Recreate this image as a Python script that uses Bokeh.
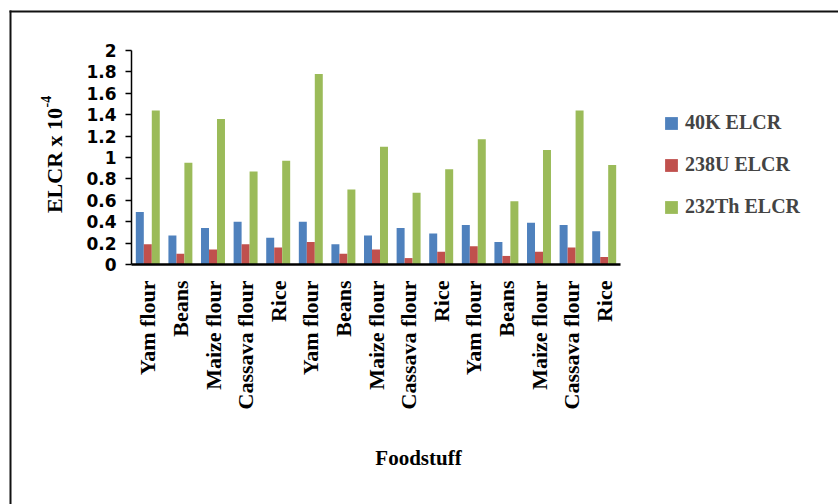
import math

from bokeh.embed import file_html
from bokeh.models import (BoxAnnotation, ColumnDataSource, FixedTicker, Label,
                          Legend, LegendItem, Range1d)
from bokeh.plotting import figure
from bokeh.resources import INLINE

# ELCR (x 10^-4) for each foodstuff sample, three sampling sets of five foods
foods = ["Yam flour", "Beans", "Maize flour", "Cassava flour", "Rice",
         "Yam flour", "Beans", "Maize flour", "Cassava flour", "Rice",
         "Yam flour", "Beans", "Maize flour", "Cassava flour", "Rice"]
k40_elcr = [0.49, 0.27, 0.34, 0.40, 0.25, 0.40, 0.19, 0.27, 0.34, 0.29,
            0.37, 0.21, 0.39, 0.37, 0.31]
u238_elcr = [0.19, 0.10, 0.14, 0.19, 0.16, 0.21, 0.10, 0.14, 0.06, 0.12,
             0.17, 0.08, 0.12, 0.16, 0.07]
th232_elcr = [1.44, 0.95, 1.36, 0.87, 0.97, 1.78, 0.70, 1.10, 0.67, 0.89,
              1.17, 0.59, 1.07, 1.44, 0.93]
series_names = ["40K ELCR", "238U ELCR", "232Th ELCR"]
series_colors = ["#4F81BD", "#C0504D", "#9BBB59"]
y_ticks = [0, 0.2, 0.4, 0.6, 0.8, 1, 1.2, 1.4, 1.6, 1.8, 2]
y_tick_labels = ["0", "0.2", "0.4", "0.6", "0.8", "1", "1.2", "1.4", "1.6", "1.8", "2"]

W, H = 838, 504
# where the bar area sits on the canvas
A_LEFT, A_RIGHT, A_TOP, A_BOTTOM = 131, 620, 50, 264
N = len(foods)
Y_MAX = 2
PX_X = (A_RIGHT - A_LEFT) / N        # pixels per category
PX_Y = (A_BOTTOM - A_TOP) / Y_MAX    # pixels per unit of ELCR


def dx(sx):
    return (sx - A_LEFT) / PX_X


def dy(sy):
    return (A_BOTTOM - sy) / PX_Y


# the frame spans the whole canvas; the axes are pinned at zero
p = figure(width=W, height=H, output_backend="svg", toolbar_location=None,
           x_range=Range1d(dx(0), dx(W)), y_range=Range1d(dy(H), dy(0)),
           min_border=0)
p.outline_line_color = None
p.grid.visible = False

bar_w = 0.245
centers = [i + 0.5 for i in range(N)]
renderers = []
for k, (vals, color) in enumerate(zip([k40_elcr, u238_elcr, th232_elcr], series_colors)):
    src = ColumnDataSource(dict(x=[c + (k - 1) * bar_w for c in centers], top=vals))
    r = p.vbar(x="x", top="top", width=bar_w, source=src,
               fill_color=color, line_color=None)
    renderers.append(r)

# y axis
yax = p.yaxis[0]
yax.fixed_location = 0
yax.bounds = (0, Y_MAX)
yax.ticker = FixedTicker(ticks=y_ticks)
yax.major_label_overrides = {t: s for t, s in zip(y_ticks, y_tick_labels)}
yax.minor_tick_line_color = None
yax.major_tick_in = 0
yax.major_tick_out = 6
yax.major_tick_line_color = "black"
yax.major_tick_line_width = 1.5
yax.axis_line_color = "black"
yax.axis_line_width = 1.5
yax.major_label_standoff = 9
yax.major_label_text_font = "DejaVu Sans"
yax.major_label_text_font_style = "bold"
yax.major_label_text_font_size = "17px"
yax.major_label_text_color = "black"

# x axis with the food names
xax = p.xaxis[0]
xax.fixed_location = 0
xax.bounds = (0, N)
xax.ticker = FixedTicker(ticks=centers)
xax.major_label_overrides = {c: f for c, f in zip(centers, foods)}
xax.major_label_orientation = math.pi / 2
xax.minor_tick_line_color = None
xax.major_tick_line_color = None
xax.axis_line_color = "black"
xax.axis_line_width = 2.5
xax.major_label_standoff = 10
xax.major_label_text_font = "Liberation Serif"
xax.major_label_text_font_style = "bold"
xax.major_label_text_font_size = "22px"
xax.major_label_text_color = "black"

# axis titles
serif_bold = dict(text_font="Liberation Serif", text_font_style="bold", text_color="black")
p.add_layout(Label(x=dx(54), y=dy(160), text="ELCR x 10", angle=math.pi / 2,
                   text_align="center", text_baseline="alphabetic",
                   text_font_size="22px", **serif_bold))
p.add_layout(Label(x=dx(45), y=dy(107), text="-4", angle=math.pi / 2,
                   text_align="left", text_baseline="alphabetic",
                   text_font_size="14px", **serif_bold))
p.add_layout(Label(x=dx(418), y=dy(457), text="Foodstuff",
                   text_align="center", text_baseline="alphabetic",
                   text_font_size="21px", **serif_bold))

# legend
legend = Legend(items=[LegendItem(label=n, renderers=[r]) for n, r in zip(series_names, renderers)],
                location=(663, H - 218),
                glyph_width=16, glyph_height=16, label_standoff=6,
                label_text_font="Liberation Serif", label_text_font_style="bold",
                label_text_font_size="20px", label_height=20, spacing=19,
                padding=0, margin=0, border_line_color=None,
                background_fill_alpha=0)
p.add_layout(legend)

# outer frame line of the chart area: left and top edges
edge = dict(fill_color="#111111", fill_alpha=1, line_color=None)
p.add_layout(BoxAnnotation(left=dx(9), right=dx(11), top=dy(10), bottom=dy(H), **edge))
p.add_layout(BoxAnnotation(left=dx(9), right=dx(W), top=dy(10), bottom=dy(12), **edge))

open("out.html", "w").write(file_html(p, INLINE))
